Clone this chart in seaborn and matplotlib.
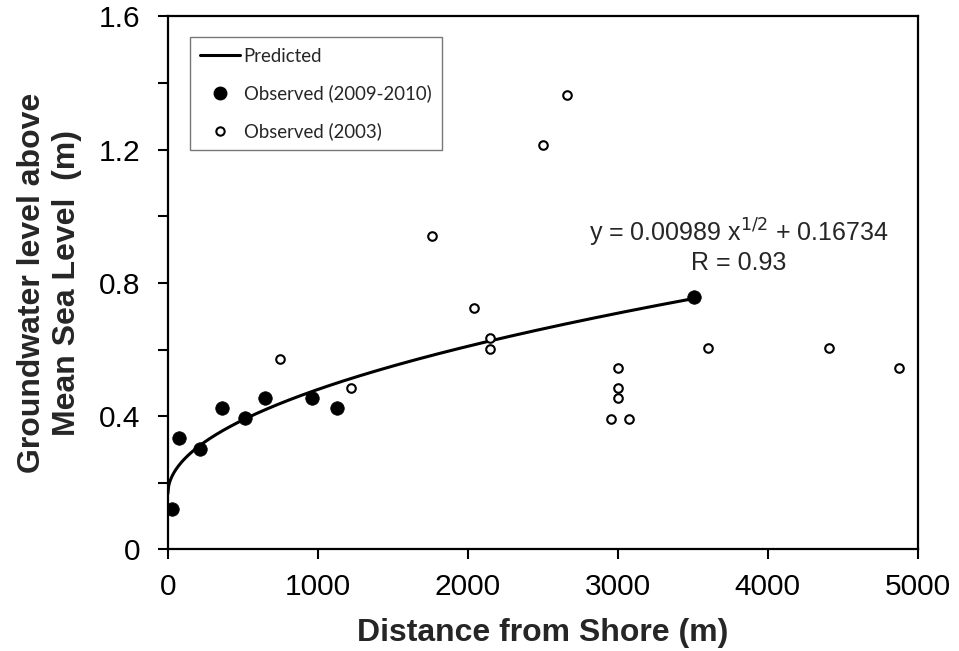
import numpy as np
import pandas as pd
import seaborn as sns
import matplotlib.pyplot as plt
from matplotlib.lines import Line2D

# Observed groundwater levels, 2009-2010 survey
obs_recent_x = [30, 75, 213, 358, 513, 647, 962, 1129, 3510]
obs_recent_y = [0.12, 0.333, 0.30, 0.425, 0.395, 0.455, 0.455, 0.425, 0.758]

# Observed groundwater levels, 2003 survey
obs_2003_x = [750, 1220, 1760, 2040, 2150, 2150, 2500, 2660, 2955, 3000,
              3000, 3000, 3075, 3600, 4410, 4875]
obs_2003_y = [0.573, 0.485, 0.94, 0.726, 0.635, 0.603, 1.213, 1.365, 0.392,
              0.543, 0.483, 0.455, 0.392, 0.606, 0.606, 0.543]

# Fitted model y = a * x^(1/2) + b
fit_a = 0.00989
fit_b = 0.16734
fit_r = 0.93
fit_x_max = 3500

x_ticks = [0, 1000, 2000, 3000, 4000, 5000]
y_ticks = [0, 0.4, 0.8, 1.2, 1.6]

sns.set_style("ticks")
plt.rcParams["font.family"] = ["Liberation Sans", "DejaVu Sans"]

fig = plt.figure(figsize=(9.59, 6.51), dpi=100)
ax = fig.add_axes([0.175, 0.156, 0.782, 0.819])

pred_x = np.linspace(0, fit_x_max, 600)
pred = pd.DataFrame({"x": pred_x, "y": fit_a * np.sqrt(pred_x) + fit_b})
sns.lineplot(data=pred, x="x", y="y", ax=ax, color="black", linewidth=2.2,
             zorder=2)

recent = pd.DataFrame({"x": obs_recent_x, "y": obs_recent_y})
old = pd.DataFrame({"x": obs_2003_x, "y": obs_2003_y})
sns.scatterplot(data=recent, x="x", y="y", ax=ax, color="black", s=95,
                edgecolor="black", linewidth=0.5, zorder=3)
sns.scatterplot(data=old, x="x", y="y", ax=ax, facecolor="white", s=38,
                edgecolor="black", linewidth=1.5, zorder=3)

ax.set_xlim(0, 5000)
ax.set_ylim(0, 1.6)
ax.set_xticks(x_ticks)
ax.set_xticklabels([str(v) for v in x_ticks])
ax.set_yticks(y_ticks)
ax.set_yticklabels(["0" if v == 0 else f"{v:.1f}" for v in y_ticks])
ax.set_yticks(np.arange(0, 1.61, 0.2), minor=True)
ax.tick_params(axis="both", which="major", labelsize=21.5, length=7,
               width=1.5, direction="out", color="black",
               labelcolor="black")
ax.tick_params(axis="x", which="major", pad=10)
ax.tick_params(axis="y", which="major", pad=12.5)
ax.tick_params(axis="y", which="minor", length=7, width=1.5,
               direction="out", color="black")
for side in ["left", "right", "top", "bottom"]:
    ax.spines[side].set_visible(True)
    ax.spines[side].set_linewidth(1.6)
    ax.spines[side].set_color("black")

ax.set_xlabel("Distance from Shore (m)", fontsize=23, fontweight="bold",
              labelpad=12)
ax.set_ylabel("Groundwater level above\nMean Sea Level  (m)", fontsize=23,
              fontweight="bold", labelpad=12, linespacing=1.22)

ax.text(3807, 0.949, r"y = 0.00989 x$^{1/2}$ + 0.16734", fontsize=18,
        ha="center", va="center")
ax.text(3807, 0.859, f"R = {fit_r:.2f}", fontsize=18, ha="center",
        va="center")

handles = [
    Line2D([], [], color="black", linewidth=2.2),
    Line2D([], [], marker="o", linestyle="none", markerfacecolor="black",
           markeredgecolor="black", markersize=9),
    Line2D([], [], marker="o", linestyle="none", markerfacecolor="white",
           markeredgecolor="black", markeredgewidth=1.5, markersize=6),
]
labels = ["Predicted", "Observed (2009-2010)", "Observed (2003)"]
leg = ax.legend(handles, labels, loc="upper left",
                bbox_to_anchor=(0.029, 0.9606), borderaxespad=0,
                frameon=True, fancybox=False, edgecolor="#777777",
                framealpha=1, handlelength=2.15, handletextpad=0.2,
                labelspacing=1.07, borderpad=0.55,
                prop={"family": ["Lato", "DejaVu Sans"], "size": 13.4})
leg.get_frame().set_linewidth(1.0)

fig.savefig("out.png", dpi=100)
